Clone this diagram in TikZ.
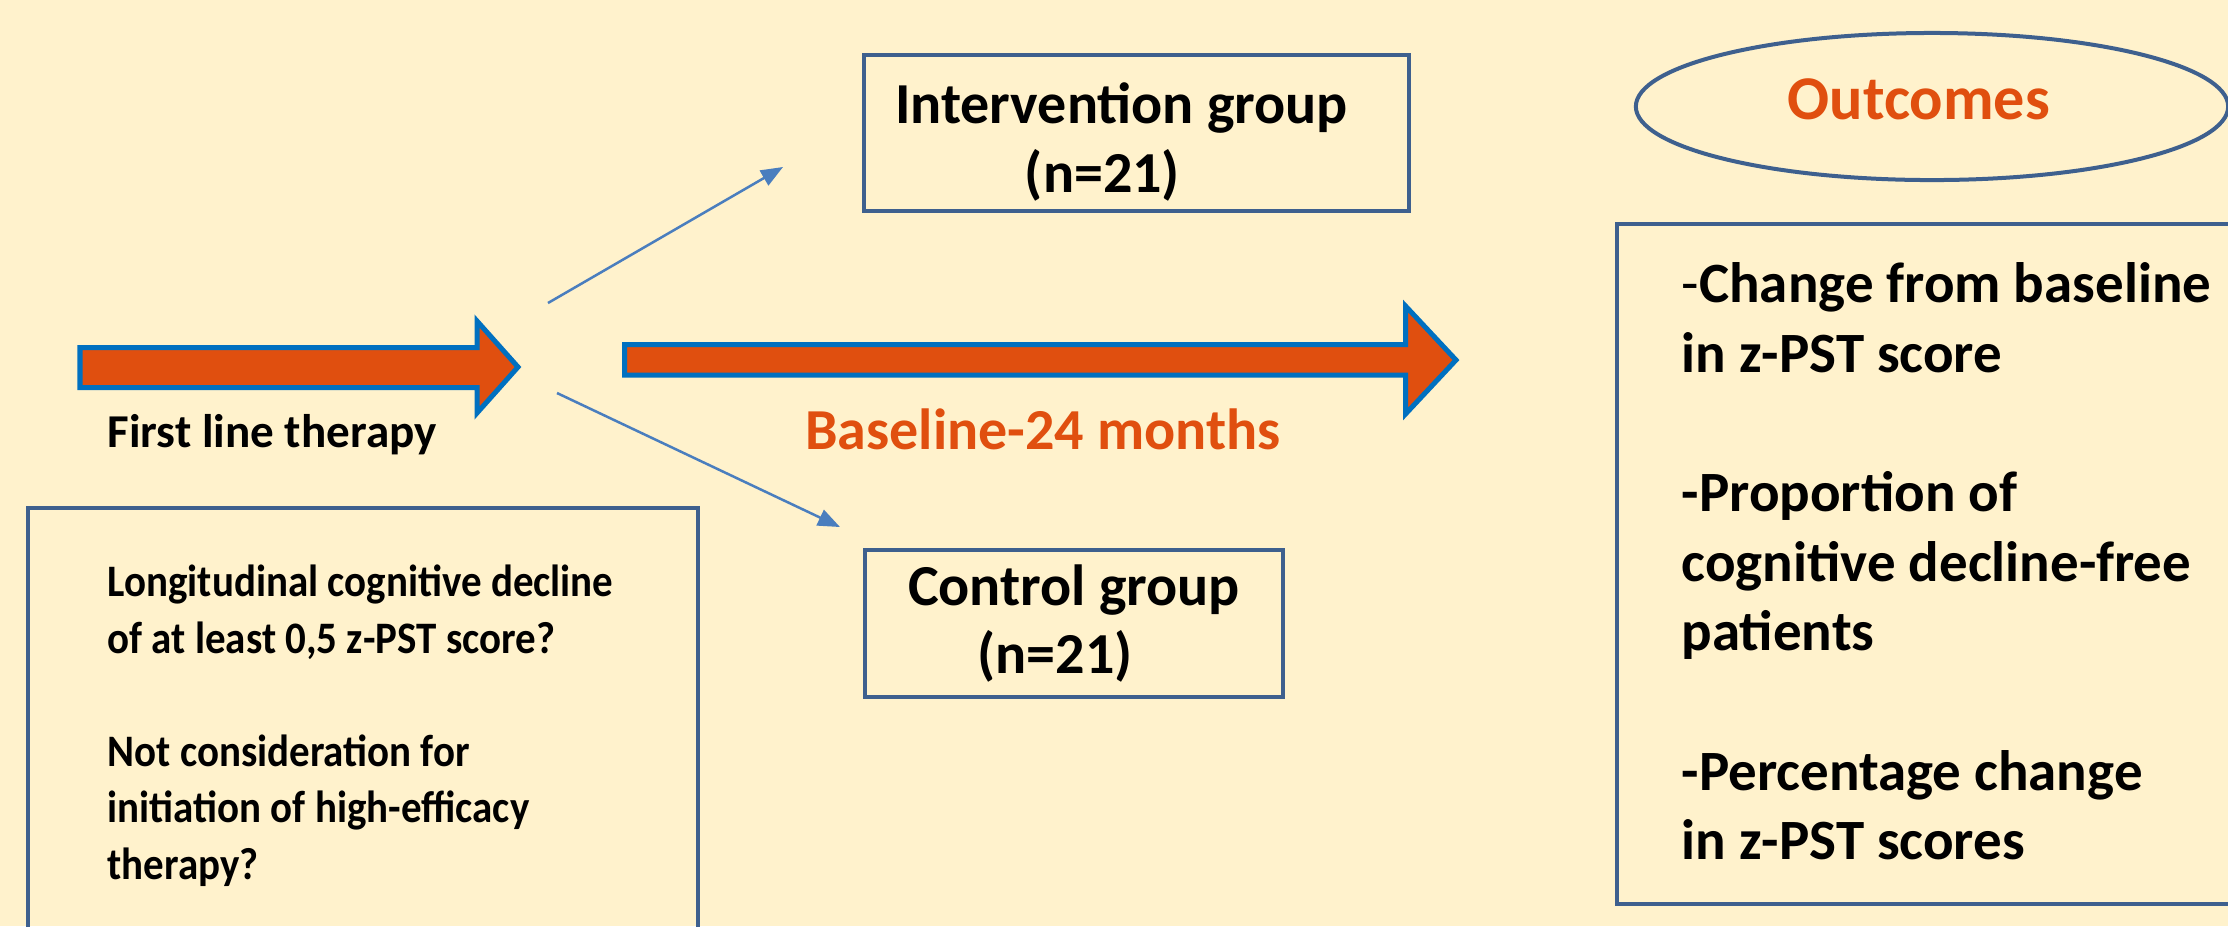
\documentclass[tikz,border=0pt]{standalone}
\usepackage{fontspec}
\setmainfont{Carlito}
\newfontfamily\narrowfont[FakeStretch=0.91]{Carlito}
\usetikzlibrary{arrows.meta, shapes.geometric}
\definecolor{bgcolor}{RGB}{255,242,204}
\definecolor{arrfill}{RGB}{224,79,15}
\definecolor{arredge}{RGB}{0,112,192}
\definecolor{boxcolor}{RGB}{62,96,142}
\definecolor{linkcolor}{RGB}{74,126,190}

\begin{document}
\begin{tikzpicture}[x=0.01cm, y=-0.01cm,
    grpbox/.style={
        draw=boxcolor, line width=0.04cm,
        align=center, inner sep=0pt,
        font=\fontsize{16.5}{19.6}\selectfont\bfseries
    },
    sidebox/.style={
        draw=boxcolor, line width=0.04cm,
        inner sep=0pt, anchor=north west
    },
    bigarrow/.style={fill=arrfill, draw=arredge, line width=0.05cm},
    link/.style={
        draw=linkcolor, line width=0.025cm,
        -{Triangle[length=0.22cm, width=0.17cm]}
    },
    lbl/.style={inner sep=0pt, anchor=base}
]

% =========================
% BACKGROUND
% =========================
\fill[bgcolor] (0,0) rectangle (2228,926);
\useasboundingbox (0,0) rectangle (2228,926);

% =========================
% FIRST LINE THERAPY
% =========================
\draw[bigarrow] (80,347.5) -- (477,347.5) -- (477,321) -- (518,367)
  -- (477,413) -- (477,387.5) -- (80,387.5) -- cycle;

\node[lbl, font=\fontsize{13.4}{15}\selectfont\bfseries] (firstlbl) at (272,447)
 {First line therapy};

% =========================
% CRITERIA (left, open at bottom)
% =========================
\node[sidebox, minimum width=6.70cm, minimum height=4.94cm] (critbox) at (26,506) {};

\node[inner sep=0pt, anchor=north west, align=left,
      font=\narrowfont\bfseries\fontsize{12.8}{16.1}\selectfont] (crittxt) at (107,564)
 {Longitudinal cognitive decline\\
  of at least 0,5 z-PST score?\\[16.1pt]
  Not consideration for\\
  initiation of high-efficacy\\
  therapy?};

% =========================
% GROUPS
% =========================
\node[grpbox, minimum width=5.45cm, minimum height=1.56cm] (interv) at (1136.5,133)
 {\rule{0pt}{0.59cm}Intervention group\hspace*{0.3cm}\\(n=21)\hspace*{0.68cm}};

\node[grpbox, minimum width=4.18cm, minimum height=1.47cm] (ctrl) at (1074,623.5)
 {Control group\\(n=21)\hspace*{0.38cm}};

\coordinate (upfrom) at (548,303);
\coordinate (upto) at (783,167);
\coordinate (dnfrom) at (557,393);
\coordinate (dnto) at (840,527);

\draw[link] (upfrom) -- (upto);
\draw[link] (dnfrom) -- (dnto);

% =========================
% FOLLOW-UP
% =========================
\draw[bigarrow] (624.5,344.5) -- (1405.5,344.5) -- (1405.5,306) -- (1456,360)
  -- (1405.5,414) -- (1405.5,375) -- (624.5,375) -- cycle;

\node[lbl, text=arrfill, font=\fontsize{16.5}{19.6}\selectfont\bfseries] (period) at (1043,449)
 {Baseline-24 months};

% =========================
% OUTCOMES
% =========================
\node[ellipse, draw=boxcolor, line width=0.04cm, inner sep=0pt,
      minimum width=5.92cm, minimum height=1.47cm,
      text=arrfill, font=\fontsize{17.7}{21}\selectfont\bfseries] (outc) at (1932,106.5)
 {Outcomes\hspace*{0.26cm}\rule[-0.14cm]{0pt}{0.14cm}};

\node[sidebox, minimum width=6.85cm, minimum height=6.80cm] (outbox) at (1615,222) {};

\node[inner sep=0pt, anchor=north west, align=left,
      font=\fontsize{16.2}{19.8}\selectfont\bfseries] (outtxt) at (1681,262)
 {{\mdseries -}Change from baseline\\
  in z-PST score\\[19.8pt]
  -Proportion of\\
  cognitive decline-free\\
  patients\\[19.8pt]
  -Percentage change\\
  in z-PST scores};

\end{tikzpicture}
\end{document}
